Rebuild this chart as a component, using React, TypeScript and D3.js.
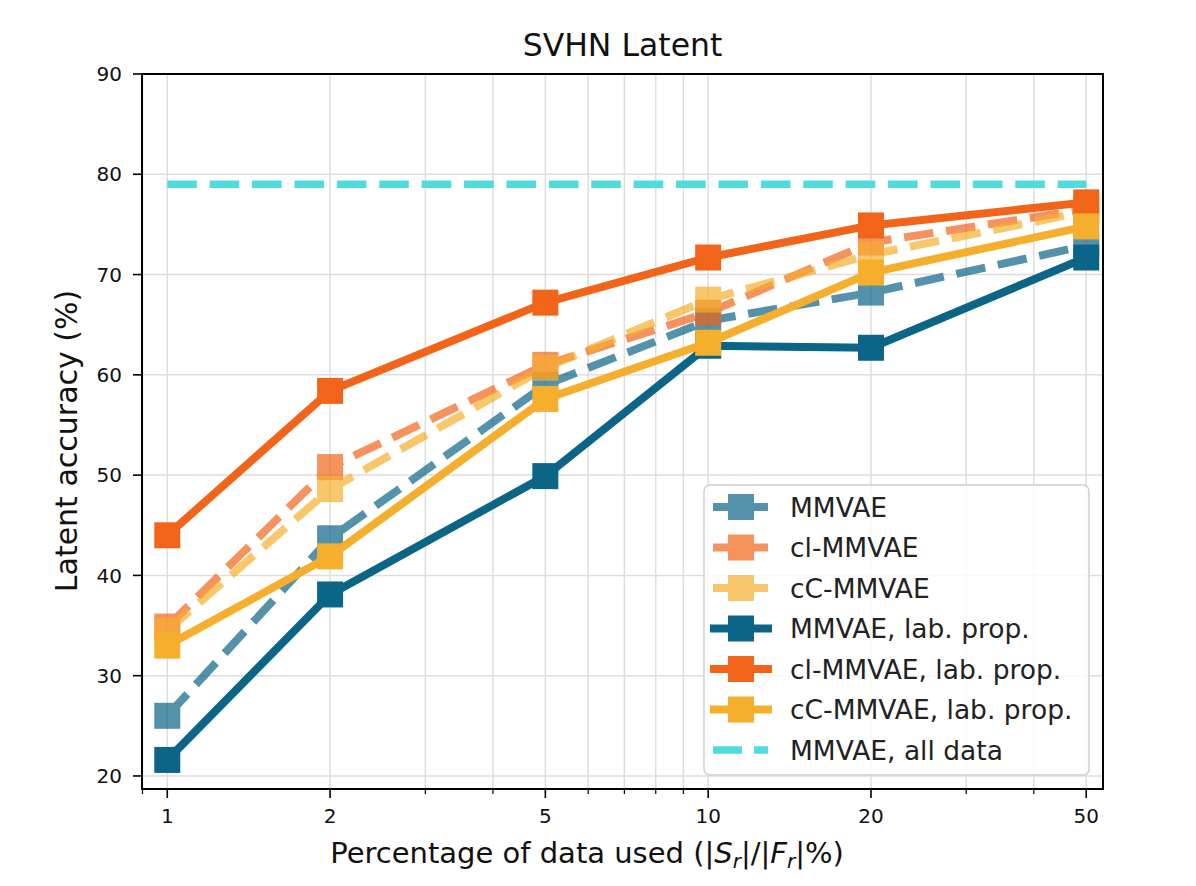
import React from "react";
import * as d3 from "d3";

const xValues = [1, 2, 5, 10, 20, 50];
const mmvae = [26.0, 43.7, 59.0, 65.4, 68.2, 72.9];
const clMmvae = [34.9, 50.8, 61.0, 66.2, 73.2, 76.5];
const ccMmvae = [34.5, 48.6, 60.7, 67.5, 72.0, 76.3];
const mmvaeLab = [21.6, 38.1, 49.9, 62.9, 62.7, 71.7];
const clMmvaeLab = [44.0, 58.4, 67.2, 71.7, 74.9, 77.2];
const ccMmvaeLab = [33.0, 41.9, 57.6, 63.2, 70.2, 74.8];
const allData = 79.0;
const allDataX = [1, 50];
const yTicks = [20, 30, 40, 50, 60, 70, 80, 90];
const xMajorTicks = [1, 2, 5, 10, 20, 50];
const xMinorTicks = [0.9, 3, 4, 6, 7, 8, 9, 30, 40];

const TEAL = "#0b6587";
const ORANGE = "#f26419";
const YELLOW = "#f6ae2d";
const CYAN = "#50dcdc";

type Series = { label: string; values: number[]; color: string; dashed: boolean; alpha: number };
const series: Series[] = [
  { label: "MMVAE", values: mmvae, color: TEAL, dashed: true, alpha: 0.7 },
  { label: "cl-MMVAE", values: clMmvae, color: ORANGE, dashed: true, alpha: 0.7 },
  { label: "cC-MMVAE", values: ccMmvae, color: YELLOW, dashed: true, alpha: 0.7 },
  { label: "MMVAE, lab. prop.", values: mmvaeLab, color: TEAL, dashed: false, alpha: 1 },
  { label: "cl-MMVAE, lab. prop.", values: clMmvaeLab, color: ORANGE, dashed: false, alpha: 1 },
  { label: "cC-MMVAE, lab. prop.", values: ccMmvaeLab, color: YELLOW, dashed: false, alpha: 1 },
];

const W = 1196, H = 886;
const L = 142, R = 1103, T = 74, B = 789;
const FONT = "DejaVu Sans, sans-serif";
const DASH = "29.6,12.8";
const LW = 8;
const MS = 26;

export default function App() {
  const x = d3.scaleLog().domain([0.898, 53.7]).range([L, R]);
  const y = d3.scaleLinear().domain([90, 18.7]).range([T, B]);
  const line = d3.line<number>().x((_, i) => x(xValues[i])).y((v) => y(v));

  const legX = 704, legY = 485, legW = 385, legH = 290;
  const rowY = (i: number) => 507 + i * 40.5;

  return (
    <svg width={W} height={H} style={{ position: "absolute", left: 0, top: 0, background: "#fff" }} fontFamily={FONT}>
      <rect x={0} y={0} width={W} height={H} fill="#fff" />
      {/* grid */}
      <g stroke="#dedede" strokeWidth={1.5}>
        {yTicks.map((t) => (
          <line key={"gy" + t} x1={L} x2={R} y1={y(t)} y2={y(t)} />
        ))}
        {[...xMajorTicks, ...xMinorTicks].map((t) => (
          <line key={"gx" + t} x1={x(t)} x2={x(t)} y1={T} y2={B} />
        ))}
      </g>
      {/* series */}
      {series.map((s) => (
        <g key={s.label} opacity={s.alpha}>
          <path
            d={line(s.values) || ""}
            fill="none"
            stroke={s.color}
            strokeWidth={LW}
            strokeDasharray={s.dashed ? DASH : undefined}
            strokeLinejoin="round"
          />
          {s.values.map((v, i) => (
            <rect key={i} x={x(xValues[i]) - MS / 2} y={y(v) - MS / 2} width={MS} height={MS} fill={s.color} />
          ))}
        </g>
      ))}
      <line
        x1={x(allDataX[0])}
        x2={x(allDataX[1])}
        y1={y(allData)}
        y2={y(allData)}
        stroke={CYAN}
        strokeWidth={7.5}
        strokeDasharray={DASH}
      />
      {/* spines */}
      <rect x={L} y={T} width={R - L} height={B - T} fill="none" stroke="#000" strokeWidth={2} />
      {/* y ticks */}
      {yTicks.map((t) => (
        <g key={"yt" + t}>
          <line x1={L - 9} x2={L} y1={y(t)} y2={y(t)} stroke="#000" strokeWidth={1.6} />
          <text x={L - 20} y={y(t)} dy="0.36em" textAnchor="end" fontSize={20} fill="#111">
            {t}
          </text>
        </g>
      ))}
      {/* x ticks */}
      {xMajorTicks.map((t) => (
        <g key={"xt" + t}>
          <line x1={x(t)} x2={x(t)} y1={B} y2={B + 9} stroke="#000" strokeWidth={1.6} />
          <text x={x(t)} y={B + 34} textAnchor="middle" fontSize={20} fill="#111">
            {t}
          </text>
        </g>
      ))}
      {xMinorTicks.map((t) => (
        <line key={"xm" + t} x1={x(t)} x2={x(t)} y1={B} y2={B + 5} stroke="#000" strokeWidth={1.2} />
      ))}
      {/* title */}
      <text x={(L + R) / 2} y={56} textAnchor="middle" fontSize={31.5} fill="#111">
        SVHN Latent
      </text>
      {/* x label */}
      <text x={587} y={863} textAnchor="middle" fontSize={29} fill="#111">
        Percentage of data used (|<tspan fontStyle="italic">S</tspan>
        <tspan fontStyle="italic" fontSize={20} dy={5}>r</tspan>
        <tspan dy={-5}>|/|</tspan>
        <tspan fontStyle="italic">F</tspan>
        <tspan fontStyle="italic" fontSize={20} dy={5}>r</tspan>
        <tspan dy={-5}>|%)</tspan>
      </text>
      {/* y label */}
      <text transform={`translate(77, 441) rotate(-90)`} textAnchor="middle" fontSize={30} fill="#111">
        Latent accuracy (%)
      </text>
      {/* legend */}
      <rect x={legX} y={legY} width={legW} height={legH} rx={6} fill="#fff" fillOpacity={0.8} stroke="#d0d0d0" strokeWidth={1.5} />
      {series.map((s, i) => (
        <g key={"leg" + s.label}>
          <g opacity={s.alpha}>
            <line
              x1={s.dashed ? 713 : 710}
              x2={s.dashed ? 768 : 772}
              y1={rowY(i)}
              y2={rowY(i)}
              stroke={s.color}
              strokeWidth={LW}
              strokeDasharray={s.dashed ? "24,12" : undefined}
            />
            <rect x={741 - MS / 2} y={rowY(i) - MS / 2} width={MS} height={MS} fill={s.color} />
          </g>
          <text x={790} y={rowY(i)} dy="0.36em" fontSize={26.5} fill="#222">
            {s.label}
          </text>
        </g>
      ))}
      <line x1={713} x2={768} y1={rowY(6)} y2={rowY(6)} stroke={CYAN} strokeWidth={7.5} strokeDasharray="29,12" />
      <text x={790} y={rowY(6)} dy="0.36em" fontSize={26.5} fill="#222">
        MMVAE, all data
      </text>
    </svg>
  );
}
